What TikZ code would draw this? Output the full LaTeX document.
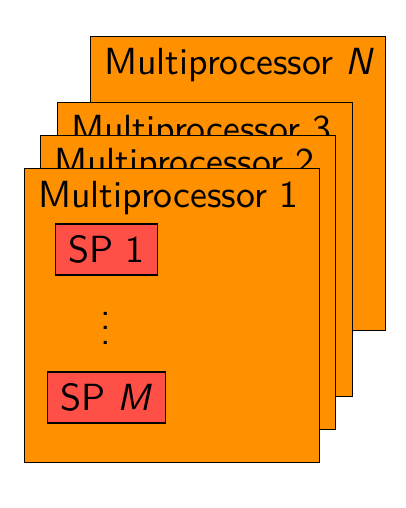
\documentclass[tikz,border=0pt]{standalone}
\usepackage{fontspec}
\setsansfont{lmsans10-regular.otf}[ItalicFont=lmsans10-oblique.otf]
\definecolor{mporange}{RGB}{255,145,0}
\definecolor{spred}{RGB}{255,80,72}
\tikzset{
  mpbox/.style={draw=black, fill=mporange, line width=1.3pt, minimum width=295pt, minimum height=294pt, anchor=north west, inner sep=0pt},
  mptitle/.style={anchor=base west, inner sep=0pt, font=\sffamily\fontsize{37.8}{42}\selectfont},
  spbox/.style={draw=black, fill=spred, line width=1.3pt, minimum height=51pt, inner xsep=13pt, inner ysep=0pt, font=\sffamily\fontsize{37.8}{42}\selectfont},
}
\begin{document}
\begin{tikzpicture}[x=1pt,y=-1pt]
\useasboundingbox (0,0) rectangle (406,508);
\node[mpbox] (mpN) at (90,36) {};
\node[mptitle] (tN) at ([shift={(14,39)}]mpN.north west) {Multiprocessor \textit{N}};
\node[mpbox] (mp3) at (57,102) {};
\node[mptitle] (t3) at ([shift={(14,39)}]mp3.north west) {Multiprocessor 3};
\node[mpbox] (mp2) at (40,135) {};
\node[mptitle] (t2) at ([shift={(14,39)}]mp2.north west) {Multiprocessor 2};
\node[mpbox] (mp1) at (24,168) {};
\node[mptitle] (t1) at ([shift={(14,39)}]mp1.north west) {Multiprocessor 1};
\node[spbox] (sp1) at (106.5,249.5) {SP 1};
\node[anchor=north, inner sep=0pt, align=center, font=\sffamily\fontsize{37.8}{14.5}\selectfont] (dots) at (106,312) {.\\.\\.};
\node[spbox] (spM) at (106.5,397.5) {SP \textit{M}};
\end{tikzpicture}
\end{document}
